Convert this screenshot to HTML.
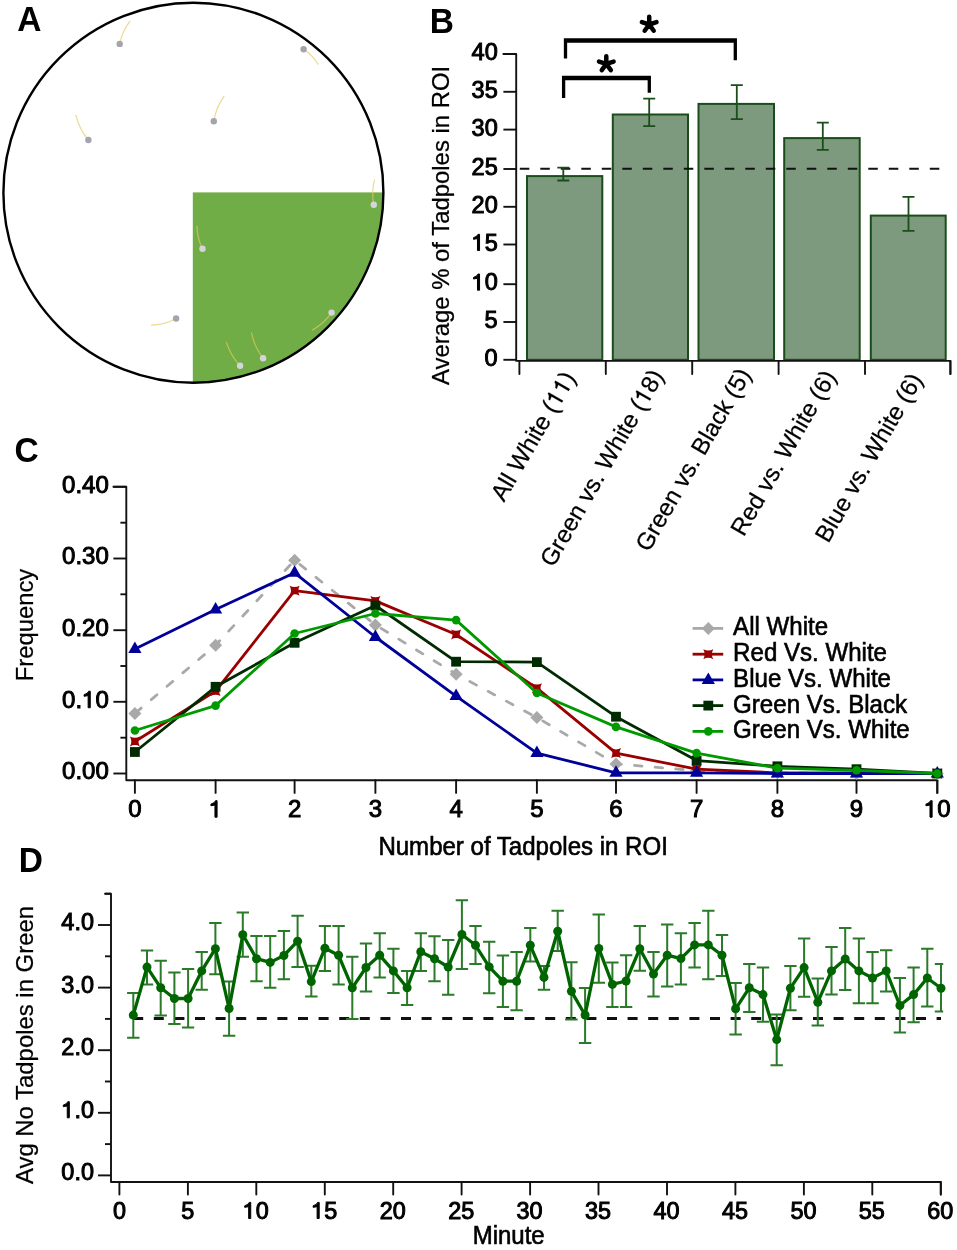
<!DOCTYPE html>
<html><head><meta charset="utf-8"><title>Figure</title>
<style>
html,body{margin:0;padding:0;background:#fff;}
body{width:957px;height:1250px;overflow:hidden;}
svg{display:block;will-change:transform;}
text{font-family:"Liberation Sans", sans-serif;fill:#000;}
.b{font-weight:bold;}
.r{stroke:#000;stroke-width:0.6px;}
.t{stroke:#000;stroke-width:1.0px;}
.r2{stroke:#000;stroke-width:0.25px;}
</style></head><body>
<svg width="957" height="1250" viewBox="0 0 957 1250">
<rect width="957" height="1250" fill="#fff"/>
<text transform="translate(17.30,30.80) scale(1,1.03)" font-size="33.5" class="b">A</text>
<text transform="translate(429.80,32.70) scale(1,1.03)" font-size="33.5" class="b">B</text>
<text transform="translate(14.60,462.40) scale(1,1.03)" font-size="33.5" class="b">C</text>
<text transform="translate(18.80,871.80) scale(1,1.03)" font-size="33.5" class="b">D</text>
<defs><clipPath id="cc"><circle cx="193.4" cy="192.7" r="190.0"/></clipPath></defs>
<rect x="192.8" y="192.4" width="200" height="200" fill="#70AD47" clip-path="url(#cc)"/>
<path d="M119.69999999999999,43.9 Q122.2,31.1 130.2,20.9" stroke="#e8c860" stroke-width="1.2" fill="none" opacity="0.7"/>
<circle cx="119.69999999999999" cy="43.9" r="3.2" fill="#a4a4b0"/>
<path d="M303.6,49.3 Q312.8,55.3 318.3,64.8" stroke="#e8c860" stroke-width="1.2" fill="none" opacity="0.7"/>
<circle cx="303.6" cy="49.3" r="3.2" fill="#a4a4b0"/>
<path d="M213.79999999999998,121.2 Q216.0,107.4 224.2,96.1" stroke="#e8c860" stroke-width="1.2" fill="none" opacity="0.7"/>
<circle cx="213.79999999999998" cy="121.2" r="3.2" fill="#a4a4b0"/>
<path d="M88.39999999999999,140 Q79.1,129.0 75.8,114.9" stroke="#e8c860" stroke-width="1.2" fill="none" opacity="0.7"/>
<circle cx="88.39999999999999" cy="140" r="3.2" fill="#a4a4b0"/>
<path d="M373.8,204.8 Q371.2,192.2 374.6,179.7" stroke="#e8c860" stroke-width="1.2" fill="none" opacity="0.7"/>
<circle cx="373.8" cy="204.8" r="3.2" fill="#d4d4da"/>
<path d="M202.5,248.7 Q197.0,237.9 197.0,225.7" stroke="#e8c860" stroke-width="1.2" fill="none" opacity="0.7"/>
<circle cx="202.5" cy="248.7" r="3.2" fill="#d4d4da"/>
<path d="M176.1,318.5 Q164.4,324.9 151.1,325.2" stroke="#e8c860" stroke-width="1.2" fill="none" opacity="0.7"/>
<circle cx="176.1" cy="318.5" r="3.2" fill="#a4a4b0"/>
<path d="M331.6,312.6 Q323.9,323.8 312.0,330.2" stroke="#e8c860" stroke-width="1.2" fill="none" opacity="0.7"/>
<circle cx="331.6" cy="312.6" r="3.2" fill="#d4d4da"/>
<path d="M263.1,358.2 Q254.1,346.7 251.4,332.3" stroke="#e8c860" stroke-width="1.2" fill="none" opacity="0.7"/>
<circle cx="263.1" cy="358.2" r="3.2" fill="#d4d4da"/>
<path d="M240.1,365.7 Q230.3,355.5 226.29999999999998,341.9" stroke="#e8c860" stroke-width="1.2" fill="none" opacity="0.7"/>
<circle cx="240.1" cy="365.7" r="3.2" fill="#d4d4da"/>
<circle cx="193.4" cy="192.7" r="190.0" fill="none" stroke="#000" stroke-width="2.4"/>
<rect x="527.0" y="176.1" width="75.3" height="183.7" fill="#7e9a7e" stroke="#1a4d1a" stroke-width="2"/>
<rect x="612.8" y="114.5" width="75.2" height="245.3" fill="#7e9a7e" stroke="#1a4d1a" stroke-width="2"/>
<rect x="698.5" y="103.9" width="75.5" height="255.9" fill="#7e9a7e" stroke="#1a4d1a" stroke-width="2"/>
<rect x="784.2" y="138.1" width="75.5" height="221.7" fill="#7e9a7e" stroke="#1a4d1a" stroke-width="2"/>
<rect x="870.8" y="215.6" width="74.9" height="144.2" fill="#7e9a7e" stroke="#1a4d1a" stroke-width="2"/>
<line x1="519.8" y1="168.8" x2="942" y2="168.8" stroke="#111" stroke-width="2" stroke-dasharray="9.5 11"/>
<path d="M563.3,167.6 V180.5 M557.3,167.6 H569.3 M557.3,180.5 H569.3" stroke="#1a4d1a" stroke-width="1.8" fill="none"/>
<path d="M649.2,98.6 V126.1 M643.2,98.6 H655.2 M643.2,126.1 H655.2" stroke="#1a4d1a" stroke-width="1.8" fill="none"/>
<path d="M736.8,85.1 V119.1 M730.8,85.1 H742.8 M730.8,119.1 H742.8" stroke="#1a4d1a" stroke-width="1.8" fill="none"/>
<path d="M822.8,122.7 V149.9 M816.8,122.7 H828.8 M816.8,149.9 H828.8" stroke="#1a4d1a" stroke-width="1.8" fill="none"/>
<path d="M908.5,196.8 V230.8 M902.5,196.8 H914.5 M902.5,230.8 H914.5" stroke="#1a4d1a" stroke-width="1.8" fill="none"/>
<path d="M503.4,54.0 H516.2 V360.9 H950.4 V374" stroke="#111" stroke-width="1.9" fill="none" stroke-linejoin="round" stroke-linecap="round"/>
<line x1="503.4" y1="359.8" x2="516.2" y2="359.8" stroke="#111" stroke-width="1.9"/>
<text transform="translate(497.70,365.80)" font-size="23.5" class="t" text-anchor="end">0</text>
<line x1="503.4" y1="322.0" x2="516.2" y2="322.0" stroke="#111" stroke-width="1.9"/>
<text transform="translate(497.70,328.00)" font-size="23.5" class="t" text-anchor="end">5</text>
<line x1="503.4" y1="284.2" x2="516.2" y2="284.2" stroke="#111" stroke-width="1.9"/>
<g transform="translate(497.70,290.20)"><text x="-26.14" y="0" font-size="23.5" class="t"> 0</text><path class="t" d="M-20.23,0.00 L-18.15,0.00 L-18.15,-16.17 L-19.71,-16.17 Q-20.17,-14.06 -24.19,-12.79 L-24.19,-11.19 L-20.23,-11.88 Z"/></g>
<line x1="503.4" y1="244.5" x2="516.2" y2="244.5" stroke="#111" stroke-width="1.9"/>
<g transform="translate(497.70,250.50)"><text x="-26.14" y="0" font-size="23.5" class="t"> 5</text><path class="t" d="M-20.23,0.00 L-18.15,0.00 L-18.15,-16.17 L-19.71,-16.17 Q-20.17,-14.06 -24.19,-12.79 L-24.19,-11.19 L-20.23,-11.88 Z"/></g>
<line x1="503.4" y1="206.8" x2="516.2" y2="206.8" stroke="#111" stroke-width="1.9"/>
<text transform="translate(497.70,212.80)" font-size="23.5" class="t" text-anchor="end">20</text>
<line x1="503.4" y1="169.0" x2="516.2" y2="169.0" stroke="#111" stroke-width="1.9"/>
<text transform="translate(497.70,175.00)" font-size="23.5" class="t" text-anchor="end">25</text>
<line x1="503.4" y1="129.6" x2="516.2" y2="129.6" stroke="#111" stroke-width="1.9"/>
<text transform="translate(497.70,135.60)" font-size="23.5" class="t" text-anchor="end">30</text>
<line x1="503.4" y1="91.8" x2="516.2" y2="91.8" stroke="#111" stroke-width="1.9"/>
<text transform="translate(497.70,97.80)" font-size="23.5" class="t" text-anchor="end">35</text>
<line x1="503.4" y1="54.0" x2="516.2" y2="54.0" stroke="#111" stroke-width="1.9"/>
<text transform="translate(497.70,60.00)" font-size="23.5" class="t" text-anchor="end">40</text>
<line x1="519.4" y1="360.9" x2="519.4" y2="374" stroke="#111" stroke-width="1.9" stroke-linecap="round"/>
<line x1="605.8" y1="360.9" x2="605.8" y2="374" stroke="#111" stroke-width="1.9" stroke-linecap="round"/>
<line x1="692.2" y1="360.9" x2="692.2" y2="374" stroke="#111" stroke-width="1.9" stroke-linecap="round"/>
<line x1="778.6" y1="360.9" x2="778.6" y2="374" stroke="#111" stroke-width="1.9" stroke-linecap="round"/>
<line x1="865.0" y1="360.9" x2="865.0" y2="374" stroke="#111" stroke-width="1.9" stroke-linecap="round"/>
<line x1="950.4" y1="360.9" x2="950.4" y2="374" stroke="#111" stroke-width="1.9" stroke-linecap="round"/>
<text transform="translate(448.80,225.40) rotate(-90)" font-size="23.9" class="r2" text-anchor="middle">Average % of Tadpoles in ROI</text>
<g transform="translate(576.40,377.60) rotate(-60)"><text x="-144.64" y="0" font-size="24.1" class="r2">All White (  )</text><path class="r2" d="M-28.77,0.00 L-26.64,0.00 L-26.64,-16.58 L-28.24,-16.58 Q-28.71,-14.42 -32.83,-13.12 L-32.83,-11.47 L-28.77,-12.18 Z"/><path class="r2" d="M-15.37,0.00 L-13.24,0.00 L-13.24,-16.58 L-14.84,-16.58 Q-15.31,-14.42 -19.43,-13.12 L-19.43,-11.47 L-15.37,-12.18 Z"/></g>
<g transform="translate(664.40,375.60) rotate(-60)"><text x="-222.32" y="0" font-size="24.1" class="r2">Green vs. White ( 8)</text><path class="r2" d="M-28.77,0.00 L-26.64,0.00 L-26.64,-16.58 L-28.24,-16.58 Q-28.71,-14.42 -32.83,-13.12 L-32.83,-11.47 L-28.77,-12.18 Z"/></g>
<text transform="translate(751.80,374.40) rotate(-60)" font-size="24.1" class="r2" text-anchor="end">Green vs. Black (5)</text>
<text transform="translate(836.85,376.40) rotate(-60)" font-size="24.1" class="r2" text-anchor="end">Red vs. White (6)</text>
<text transform="translate(923.30,379.30) rotate(-60)" font-size="24.1" class="r2" text-anchor="end">Blue vs. White (6)</text>
<path d="M563.85,58.40 V38.25 H736.95 V60.30 H733.65 V42.75 H567.15 V58.40 Z" fill="#000"/>
<path d="M561.95,98.00 V75.75 H650.95 V92.70 H647.65 V80.25 H565.25 V98.00 Z" fill="#000"/>
<path d="M649.2,24.5 L649.20,16.80 M649.2,24.5 L656.52,22.12 M649.2,24.5 L653.73,30.73 M649.2,24.5 L644.67,30.73 M649.2,24.5 L641.88,22.12 " stroke="#000" stroke-width="4.5" stroke-linecap="round" fill="none"/>
<path d="M606.3,63.9 L606.30,56.20 M606.3,63.9 L613.62,61.52 M606.3,63.9 L610.83,70.13 M606.3,63.9 L601.77,70.13 M606.3,63.9 L598.98,61.52 " stroke="#000" stroke-width="4.5" stroke-linecap="round" fill="none"/>
<path d="M113.4,486.8 H126.3 V780.2 H937.3 V792.9" stroke="#111" stroke-width="1.9" fill="none" stroke-linejoin="round" stroke-linecap="round"/>
<line x1="113.4" y1="773.5" x2="126.3" y2="773.5" stroke="#111" stroke-width="1.9"/>
<text transform="translate(108.80,779.40)" font-size="24" class="t" text-anchor="end">0.00</text>
<line x1="120.4" y1="737.7" x2="126.3" y2="737.7" stroke="#111" stroke-width="1.9"/>
<line x1="113.4" y1="701.8" x2="126.3" y2="701.8" stroke="#111" stroke-width="1.9"/>
<g transform="translate(108.80,707.73)"><text x="-46.71" y="0" font-size="24" class="t">0. 0</text><path class="t" d="M-20.66,0.00 L-18.54,0.00 L-18.54,-16.51 L-20.13,-16.51 Q-20.60,-14.36 -24.70,-13.07 L-24.70,-11.43 L-20.66,-12.13 Z"/></g>
<line x1="120.4" y1="666.0" x2="126.3" y2="666.0" stroke="#111" stroke-width="1.9"/>
<line x1="113.4" y1="630.2" x2="126.3" y2="630.2" stroke="#111" stroke-width="1.9"/>
<text transform="translate(108.80,636.06)" font-size="24" class="t" text-anchor="end">0.20</text>
<line x1="120.4" y1="594.3" x2="126.3" y2="594.3" stroke="#111" stroke-width="1.9"/>
<line x1="113.4" y1="558.5" x2="126.3" y2="558.5" stroke="#111" stroke-width="1.9"/>
<text transform="translate(108.80,564.39)" font-size="24" class="t" text-anchor="end">0.30</text>
<line x1="120.4" y1="522.7" x2="126.3" y2="522.7" stroke="#111" stroke-width="1.9"/>
<line x1="113.4" y1="486.8" x2="126.3" y2="486.8" stroke="#111" stroke-width="1.9"/>
<text transform="translate(108.80,492.72)" font-size="24" class="t" text-anchor="end">0.40</text>
<line x1="134.9" y1="780.2" x2="134.9" y2="792.9" stroke="#111" stroke-width="1.9" stroke-linecap="round"/>
<text transform="translate(134.90,817.20)" font-size="24" class="t" text-anchor="middle">0</text>
<line x1="215.6" y1="780.2" x2="215.6" y2="792.9" stroke="#111" stroke-width="1.9" stroke-linecap="round"/>
<g transform="translate(215.60,817.20)"><text x="-6.67" y="0" font-size="24" class="t"> </text><path class="t" d="M-0.64,0.00 L1.48,0.00 L1.48,-16.51 L-0.11,-16.51 Q-0.58,-14.36 -4.68,-13.07 L-4.68,-11.43 L-0.64,-12.13 Z"/></g>
<line x1="294.6" y1="780.2" x2="294.6" y2="792.9" stroke="#111" stroke-width="1.9" stroke-linecap="round"/>
<text transform="translate(294.60,817.20)" font-size="24" class="t" text-anchor="middle">2</text>
<line x1="375.4" y1="780.2" x2="375.4" y2="792.9" stroke="#111" stroke-width="1.9" stroke-linecap="round"/>
<text transform="translate(375.40,817.20)" font-size="24" class="t" text-anchor="middle">3</text>
<line x1="456.1" y1="780.2" x2="456.1" y2="792.9" stroke="#111" stroke-width="1.9" stroke-linecap="round"/>
<text transform="translate(456.10,817.20)" font-size="24" class="t" text-anchor="middle">4</text>
<line x1="536.9" y1="780.2" x2="536.9" y2="792.9" stroke="#111" stroke-width="1.9" stroke-linecap="round"/>
<text transform="translate(536.90,817.20)" font-size="24" class="t" text-anchor="middle">5</text>
<line x1="616.0" y1="780.2" x2="616.0" y2="792.9" stroke="#111" stroke-width="1.9" stroke-linecap="round"/>
<text transform="translate(616.00,817.20)" font-size="24" class="t" text-anchor="middle">6</text>
<line x1="696.6" y1="780.2" x2="696.6" y2="792.9" stroke="#111" stroke-width="1.9" stroke-linecap="round"/>
<text transform="translate(696.60,817.20)" font-size="24" class="t" text-anchor="middle">7</text>
<line x1="777.4" y1="780.2" x2="777.4" y2="792.9" stroke="#111" stroke-width="1.9" stroke-linecap="round"/>
<text transform="translate(777.40,817.20)" font-size="24" class="t" text-anchor="middle">8</text>
<line x1="856.5" y1="780.2" x2="856.5" y2="792.9" stroke="#111" stroke-width="1.9" stroke-linecap="round"/>
<text transform="translate(856.50,817.20)" font-size="24" class="t" text-anchor="middle">9</text>
<line x1="937.3" y1="780.2" x2="937.3" y2="792.9" stroke="#111" stroke-width="1.9" stroke-linecap="round"/>
<g transform="translate(937.30,817.20)"><text x="-13.35" y="0" font-size="24" class="t"> 0</text><path class="t" d="M-7.31,0.00 L-5.19,0.00 L-5.19,-16.51 L-6.79,-16.51 Q-7.25,-14.36 -11.36,-13.07 L-11.36,-11.43 L-7.31,-12.13 Z"/></g>
<text transform="translate(378.40,854.50) scale(1,1.05)" font-size="24.05" class="r">Number of Tadpoles in ROI</text>
<text transform="translate(32.70,625.00) rotate(-90)" font-size="23.8" class="r2" text-anchor="middle">Frequency</text>
<polyline points="134.9,713.4 215.6,645.2 294.6,560.2 375.4,624.9 456.1,674.2 536.9,717.5 616.0,763.9 696.6,770.6 777.4,772.8 856.5,773.5 937.3,773.5" fill="none" stroke="#a9a9a9" stroke-width="2.8" stroke-dasharray="7.5 13.2" stroke-linecap="round" stroke-dashoffset="-0.7"/>
<path d="M134.9,706.9 L141.4,713.4 L134.9,719.9 L128.4,713.4Z" fill="#a9a9a9"/>
<path d="M215.6,638.7 L222.1,645.2 L215.6,651.7 L209.1,645.2Z" fill="#a9a9a9"/>
<path d="M294.6,553.7 L301.1,560.2 L294.6,566.7 L288.1,560.2Z" fill="#a9a9a9"/>
<path d="M375.4,618.4 L381.9,624.9 L375.4,631.4 L368.9,624.9Z" fill="#a9a9a9"/>
<path d="M456.1,667.7 L462.6,674.2 L456.1,680.7 L449.6,674.2Z" fill="#a9a9a9"/>
<path d="M536.9,711.0 L543.4,717.5 L536.9,724.0 L530.4,717.5Z" fill="#a9a9a9"/>
<path d="M616.0,757.4 L622.5,763.9 L616.0,770.4 L609.5,763.9Z" fill="#a9a9a9"/>
<path d="M696.6,764.1 L703.1,770.6 L696.6,777.1 L690.1,770.6Z" fill="#a9a9a9"/>
<path d="M777.4,766.3 L783.9,772.8 L777.4,779.3 L770.9,772.8Z" fill="#a9a9a9"/>
<path d="M856.5,767.0 L863.0,773.5 L856.5,780.0 L850.0,773.5Z" fill="#a9a9a9"/>
<path d="M937.3,767.0 L943.8,773.5 L937.3,780.0 L930.8,773.5Z" fill="#a9a9a9"/>
<polyline points="134.9,741.5 215.6,691.1 294.6,590.7 375.4,600.9 456.1,634.5 536.9,688.2 616.0,753.1 696.6,769.2 777.4,772.8 856.5,772.8 937.3,773.5" fill="none" stroke="#9a0000" stroke-width="2.8" stroke-linejoin="round"/>
<path d="M129.9,736.5 Q134.9,739.2 139.9,736.5 Q137.2,741.5 139.9,746.5 Q134.9,743.7 129.9,746.5 Q132.7,741.5 129.9,736.5Z" fill="#9a0000"/>
<path d="M210.6,686.1 Q215.6,688.8 220.6,686.1 Q217.8,691.1 220.6,696.1 Q215.6,693.3 210.6,696.1 Q213.3,691.1 210.6,686.1Z" fill="#9a0000"/>
<path d="M289.6,585.7 Q294.6,588.5 299.6,585.7 Q296.9,590.7 299.6,595.7 Q294.6,593.0 289.6,595.7 Q292.4,590.7 289.6,585.7Z" fill="#9a0000"/>
<path d="M370.4,595.9 Q375.4,598.7 380.4,595.9 Q377.6,600.9 380.4,605.9 Q375.4,603.2 370.4,605.9 Q373.1,600.9 370.4,595.9Z" fill="#9a0000"/>
<path d="M451.1,629.5 Q456.1,632.2 461.1,629.5 Q458.4,634.5 461.1,639.5 Q456.1,636.7 451.1,639.5 Q453.9,634.5 451.1,629.5Z" fill="#9a0000"/>
<path d="M531.9,683.2 Q536.9,686.0 541.9,683.2 Q539.1,688.2 541.9,693.2 Q536.9,690.5 531.9,693.2 Q534.6,688.2 531.9,683.2Z" fill="#9a0000"/>
<path d="M611.0,748.1 Q616.0,750.8 621.0,748.1 Q618.2,753.1 621.0,758.1 Q616.0,755.3 611.0,758.1 Q613.8,753.1 611.0,748.1Z" fill="#9a0000"/>
<path d="M691.6,764.2 Q696.6,766.9 701.6,764.2 Q698.9,769.2 701.6,774.2 Q696.6,771.4 691.6,774.2 Q694.4,769.2 691.6,764.2Z" fill="#9a0000"/>
<path d="M772.4,767.8 Q777.4,770.5 782.4,767.8 Q779.6,772.8 782.4,777.8 Q777.4,775.0 772.4,777.8 Q775.1,772.8 772.4,767.8Z" fill="#9a0000"/>
<path d="M851.5,767.8 Q856.5,770.5 861.5,767.8 Q858.8,772.8 861.5,777.8 Q856.5,775.0 851.5,777.8 Q854.2,772.8 851.5,767.8Z" fill="#9a0000"/>
<path d="M932.3,768.5 Q937.3,771.2 942.3,768.5 Q939.5,773.5 942.3,778.5 Q937.3,775.8 932.3,778.5 Q935.0,773.5 932.3,768.5Z" fill="#9a0000"/>
<polyline points="134.9,649.1 215.6,609.4 294.6,572.8 375.4,637.0 456.1,696.1 536.9,753.1 616.0,772.8 696.6,772.8 777.4,773.5 856.5,773.5 937.3,773.5" fill="none" stroke="#000099" stroke-width="2.8" stroke-linejoin="round"/>
<path d="M134.9,641.6 L141.5,653.1 L128.3,653.1Z" fill="#000099"/>
<path d="M215.6,601.9 L222.2,613.4 L209.0,613.4Z" fill="#000099"/>
<path d="M294.6,565.3 L301.2,576.8 L288.0,576.8Z" fill="#000099"/>
<path d="M375.4,629.5 L382.0,641.0 L368.8,641.0Z" fill="#000099"/>
<path d="M456.1,688.6 L462.7,700.1 L449.5,700.1Z" fill="#000099"/>
<path d="M536.9,745.6 L543.5,757.1 L530.3,757.1Z" fill="#000099"/>
<path d="M616.0,765.3 L622.6,776.8 L609.4,776.8Z" fill="#000099"/>
<path d="M696.6,765.3 L703.2,776.8 L690.0,776.8Z" fill="#000099"/>
<path d="M777.4,766.0 L784.0,777.5 L770.8,777.5Z" fill="#000099"/>
<path d="M856.5,766.0 L863.1,777.5 L849.9,777.5Z" fill="#000099"/>
<path d="M937.3,766.0 L943.9,777.5 L930.7,777.5Z" fill="#000099"/>
<polyline points="134.9,752.0 215.6,686.8 294.6,642.8 375.4,605.5 456.1,661.7 536.9,662.1 616.0,716.7 696.6,760.6 777.4,766.3 856.5,769.2 937.3,773.5" fill="none" stroke="#002b00" stroke-width="2.8" stroke-linejoin="round"/>
<rect x="130.0" y="747.1" width="9.8" height="9.8" fill="#002b00"/>
<rect x="210.7" y="681.9" width="9.8" height="9.8" fill="#002b00"/>
<rect x="289.7" y="637.9" width="9.8" height="9.8" fill="#002b00"/>
<rect x="370.5" y="600.6" width="9.8" height="9.8" fill="#002b00"/>
<rect x="451.2" y="656.8" width="9.8" height="9.8" fill="#002b00"/>
<rect x="532.0" y="657.2" width="9.8" height="9.8" fill="#002b00"/>
<rect x="611.1" y="711.8" width="9.8" height="9.8" fill="#002b00"/>
<rect x="691.7" y="755.7" width="9.8" height="9.8" fill="#002b00"/>
<rect x="772.5" y="761.4" width="9.8" height="9.8" fill="#002b00"/>
<rect x="851.6" y="764.3" width="9.8" height="9.8" fill="#002b00"/>
<rect x="932.4" y="768.6" width="9.8" height="9.8" fill="#002b00"/>
<polyline points="134.9,730.5 215.6,705.6 294.6,633.5 375.4,613.5 456.1,620.1 536.9,693.0 616.0,726.9 696.6,753.1 777.4,768.1 856.5,770.3 937.3,773.5" fill="none" stroke="#009a00" stroke-width="2.8" stroke-linejoin="round"/>
<circle cx="134.9" cy="730.5" r="4.3" fill="#009a00"/>
<circle cx="215.6" cy="705.6" r="4.3" fill="#009a00"/>
<circle cx="294.6" cy="633.5" r="4.3" fill="#009a00"/>
<circle cx="375.4" cy="613.5" r="4.3" fill="#009a00"/>
<circle cx="456.1" cy="620.1" r="4.3" fill="#009a00"/>
<circle cx="536.9" cy="693.0" r="4.3" fill="#009a00"/>
<circle cx="616.0" cy="726.9" r="4.3" fill="#009a00"/>
<circle cx="696.6" cy="753.1" r="4.3" fill="#009a00"/>
<circle cx="777.4" cy="768.1" r="4.3" fill="#009a00"/>
<circle cx="856.5" cy="770.3" r="4.3" fill="#009a00"/>
<circle cx="937.3" cy="773.5" r="4.3" fill="#009a00"/>
<line x1="692.6" y1="628.4" x2="723.2" y2="628.4" stroke="#a9a9a9" stroke-width="2.8"/>
<path d="M708.3,621.9 L714.8,628.4 L708.3,634.9 L701.8,628.4Z" fill="#a9a9a9"/>
<text transform="translate(733.10,635.40) scale(1,1.05)" font-size="24.1" class="r">All White</text>
<line x1="692.6" y1="654.2" x2="723.2" y2="654.2" stroke="#9a0000" stroke-width="2.8"/>
<path d="M703.3,649.2 Q708.3,652.0 713.3,649.2 Q710.5,654.2 713.3,659.2 Q708.3,656.5 703.3,659.2 Q706.0,654.2 703.3,649.2Z" fill="#9a0000"/>
<text transform="translate(733.10,661.20) scale(1,1.05)" font-size="24.1" class="r">Red Vs. White</text>
<line x1="692.6" y1="679.9" x2="723.2" y2="679.9" stroke="#000099" stroke-width="2.8"/>
<path d="M708.3,672.4 L714.9,683.9 L701.7,683.9Z" fill="#000099"/>
<text transform="translate(733.10,686.90) scale(1,1.05)" font-size="24.1" class="r">Blue Vs. White</text>
<line x1="692.6" y1="705.6" x2="723.2" y2="705.6" stroke="#002b00" stroke-width="2.8"/>
<rect x="703.4" y="700.7" width="9.8" height="9.8" fill="#002b00"/>
<text transform="translate(733.10,712.60) scale(1,1.05)" font-size="24.1" class="r">Green Vs. Black</text>
<line x1="692.6" y1="731.4" x2="723.2" y2="731.4" stroke="#009a00" stroke-width="2.8"/>
<circle cx="708.3" cy="731.4" r="4.3" fill="#009a00"/>
<text transform="translate(733.10,738.40) scale(1,1.05)" font-size="24.1" class="r">Green Vs. White</text>
<path d="M105.0,893.7 H111.0 V1182.0 H940.8 V1194.5" stroke="#111" stroke-width="1.9" fill="none" stroke-linejoin="round" stroke-linecap="round"/>
<line x1="98.0" y1="1175.4" x2="111.0" y2="1175.4" stroke="#111" stroke-width="1.9"/>
<text transform="translate(93.90,1180.40)" font-size="23.4" class="t" text-anchor="end">0.0</text>
<line x1="105.0" y1="1144.1" x2="111.0" y2="1144.1" stroke="#111" stroke-width="1.9"/>
<line x1="98.0" y1="1112.8" x2="111.0" y2="1112.8" stroke="#111" stroke-width="1.9"/>
<g transform="translate(93.90,1117.80)"><text x="-32.53" y="0" font-size="23.4" class="t"> .0</text><path class="t" d="M-26.64,0.00 L-24.58,0.00 L-24.58,-16.10 L-26.13,-16.10 Q-26.59,-14.00 -30.59,-12.74 L-30.59,-11.14 L-26.64,-11.83 Z"/></g>
<line x1="105.0" y1="1081.5" x2="111.0" y2="1081.5" stroke="#111" stroke-width="1.9"/>
<line x1="98.0" y1="1050.2" x2="111.0" y2="1050.2" stroke="#111" stroke-width="1.9"/>
<text transform="translate(93.90,1055.20)" font-size="23.4" class="t" text-anchor="end">2.0</text>
<line x1="105.0" y1="1018.9" x2="111.0" y2="1018.9" stroke="#111" stroke-width="1.9"/>
<line x1="98.0" y1="987.6" x2="111.0" y2="987.6" stroke="#111" stroke-width="1.9"/>
<text transform="translate(93.90,992.60)" font-size="23.4" class="t" text-anchor="end">3.0</text>
<line x1="105.0" y1="956.3" x2="111.0" y2="956.3" stroke="#111" stroke-width="1.9"/>
<line x1="98.0" y1="925.0" x2="111.0" y2="925.0" stroke="#111" stroke-width="1.9"/>
<text transform="translate(93.90,930.00)" font-size="23.4" class="t" text-anchor="end">4.0</text>
<line x1="105.0" y1="893.7" x2="111.0" y2="893.7" stroke="#111" stroke-width="1.9"/>
<line x1="119.4" y1="1182.0" x2="119.4" y2="1194.5" stroke="#111" stroke-width="1.9" stroke-linecap="round"/>
<text transform="translate(119.40,1218.50)" font-size="23.4" class="t" text-anchor="middle">0</text>
<line x1="187.9" y1="1182.0" x2="187.9" y2="1194.5" stroke="#111" stroke-width="1.9" stroke-linecap="round"/>
<text transform="translate(187.85,1218.50)" font-size="23.4" class="t" text-anchor="middle">5</text>
<line x1="256.3" y1="1182.0" x2="256.3" y2="1194.5" stroke="#111" stroke-width="1.9" stroke-linecap="round"/>
<g transform="translate(255.80,1218.50)"><text x="-13.01" y="0" font-size="23.4" class="t"> 0</text><path class="t" d="M-7.13,0.00 L-5.06,0.00 L-5.06,-16.10 L-6.62,-16.10 Q-7.07,-14.00 -11.07,-12.74 L-11.07,-11.14 L-7.13,-11.83 Z"/></g>
<line x1="324.8" y1="1182.0" x2="324.8" y2="1194.5" stroke="#111" stroke-width="1.9" stroke-linecap="round"/>
<g transform="translate(324.25,1218.50)"><text x="-13.01" y="0" font-size="23.4" class="t"> 5</text><path class="t" d="M-7.13,0.00 L-5.06,0.00 L-5.06,-16.10 L-6.62,-16.10 Q-7.07,-14.00 -11.07,-12.74 L-11.07,-11.14 L-7.13,-11.83 Z"/></g>
<line x1="393.2" y1="1182.0" x2="393.2" y2="1194.5" stroke="#111" stroke-width="1.9" stroke-linecap="round"/>
<text transform="translate(392.70,1218.50)" font-size="23.4" class="t" text-anchor="middle">20</text>
<line x1="461.6" y1="1182.0" x2="461.6" y2="1194.5" stroke="#111" stroke-width="1.9" stroke-linecap="round"/>
<text transform="translate(461.15,1218.50)" font-size="23.4" class="t" text-anchor="middle">25</text>
<line x1="530.1" y1="1182.0" x2="530.1" y2="1194.5" stroke="#111" stroke-width="1.9" stroke-linecap="round"/>
<text transform="translate(529.60,1218.50)" font-size="23.4" class="t" text-anchor="middle">30</text>
<line x1="598.5" y1="1182.0" x2="598.5" y2="1194.5" stroke="#111" stroke-width="1.9" stroke-linecap="round"/>
<text transform="translate(598.05,1218.50)" font-size="23.4" class="t" text-anchor="middle">35</text>
<line x1="667.0" y1="1182.0" x2="667.0" y2="1194.5" stroke="#111" stroke-width="1.9" stroke-linecap="round"/>
<text transform="translate(666.50,1218.50)" font-size="23.4" class="t" text-anchor="middle">40</text>
<line x1="735.4" y1="1182.0" x2="735.4" y2="1194.5" stroke="#111" stroke-width="1.9" stroke-linecap="round"/>
<text transform="translate(734.95,1218.50)" font-size="23.4" class="t" text-anchor="middle">45</text>
<line x1="803.9" y1="1182.0" x2="803.9" y2="1194.5" stroke="#111" stroke-width="1.9" stroke-linecap="round"/>
<text transform="translate(803.40,1218.50)" font-size="23.4" class="t" text-anchor="middle">50</text>
<line x1="872.3" y1="1182.0" x2="872.3" y2="1194.5" stroke="#111" stroke-width="1.9" stroke-linecap="round"/>
<text transform="translate(871.85,1218.50)" font-size="23.4" class="t" text-anchor="middle">55</text>
<line x1="940.8" y1="1182.0" x2="940.8" y2="1194.5" stroke="#111" stroke-width="1.9" stroke-linecap="round"/>
<text transform="translate(940.30,1218.50)" font-size="23.4" class="t" text-anchor="middle">60</text>
<text transform="translate(508.70,1244.40) scale(1,1.05)" font-size="24.0" class="r" text-anchor="middle">Minute</text>
<text transform="translate(32.80,1045.00) rotate(-90)" font-size="23.9" class="r2" text-anchor="middle">Avg No Tadpoles in Green</text>
<line x1="133.2" y1="1018.6" x2="941" y2="1018.6" stroke="#111" stroke-width="3" stroke-dasharray="10 10.6"/>
<path d="M133.3,993.1 V1037.8 M127.1,993.1 H139.5 M127.1,1037.8 H139.5 M147.0,950.6 V984.4 M140.8,950.6 H153.2 M140.8,984.4 H153.2 M160.7,960.7 V1015.5 M154.5,960.7 H166.9 M154.5,1015.5 H166.9 M174.4,972.4 V1023.9 M168.2,972.4 H180.6 M168.2,1023.9 H180.6 M188.1,969.0 V1027.5 M181.9,969.0 H194.2 M181.9,1027.5 H194.2 M201.7,952.1 V989.7 M195.5,952.1 H207.9 M195.5,989.7 H207.9 M215.4,922.9 V974.3 M209.2,922.9 H221.6 M209.2,974.3 H221.6 M229.1,981.6 V1035.8 M222.9,981.6 H235.3 M222.9,1035.8 H235.3 M242.8,912.6 V956.8 M236.6,912.6 H249.0 M236.6,956.8 H249.0 M256.5,936.1 V981.2 M250.3,936.1 H262.7 M250.3,981.2 H262.7 M270.2,936.1 V987.8 M264.0,936.1 H276.4 M264.0,987.8 H276.4 M283.9,931.0 V979.3 M277.7,931.0 H290.1 M277.7,979.3 H290.1 M297.6,915.8 V967.1 M291.4,915.8 H303.8 M291.4,967.1 H303.8 M311.3,965.8 V996.6 M305.1,965.8 H317.5 M305.1,996.6 H317.5 M324.9,926.1 V970.9 M318.8,926.1 H331.1 M318.8,970.9 H331.1 M338.6,926.1 V984.6 M332.4,926.1 H344.8 M332.4,984.6 H344.8 M352.3,956.8 V1019.0 M346.1,956.8 H358.5 M346.1,1019.0 H358.5 M366.0,943.6 V991.6 M359.8,943.6 H372.2 M359.8,991.6 H372.2 M379.7,933.3 V977.6 M373.5,933.3 H385.9 M373.5,977.6 H385.9 M393.4,948.7 V993.1 M387.2,948.7 H399.6 M387.2,993.1 H399.6 M407.1,970.9 V1005.1 M400.9,970.9 H413.3 M400.9,1005.1 H413.3 M420.8,933.3 V970.9 M414.6,933.3 H427.0 M414.6,970.9 H427.0 M434.5,936.2 V981.2 M428.3,936.2 H440.7 M428.3,981.2 H440.7 M448.2,940.0 V994.7 M442.0,940.0 H454.4 M442.0,994.7 H454.4 M461.9,900.3 V969.0 M455.7,900.3 H468.1 M455.7,969.0 H468.1 M475.5,926.1 V963.9 M469.3,926.1 H481.7 M469.3,963.9 H481.7 M489.2,941.7 V993.2 M483.0,941.7 H495.4 M483.0,993.2 H495.4 M502.9,955.6 V1007.0 M496.7,955.6 H509.1 M496.7,1007.0 H509.1 M516.6,952.0 V1010.2 M510.4,952.0 H522.8 M510.4,1010.2 H522.8 M530.3,928.0 V961.4 M524.1,928.0 H536.5 M524.1,961.4 H536.5 M544.0,966.1 V989.7 M537.8,966.1 H550.2 M537.8,989.7 H550.2 M557.7,910.7 V951.1 M551.5,910.7 H563.9 M551.5,951.1 H563.9 M571.4,962.2 V1019.6 M565.2,962.2 H577.6 M565.2,1019.6 H577.6 M585.1,988.1 V1042.9 M578.9,988.1 H591.3 M578.9,1042.9 H591.3 M598.8,914.4 V982.7 M592.5,914.4 H605.0 M592.5,982.7 H605.0 M612.4,962.4 V1007.0 M606.2,962.4 H618.6 M606.2,1007.0 H618.6 M626.1,955.2 V1007.0 M619.9,955.2 H632.3 M619.9,1007.0 H632.3 M639.8,926.1 V970.8 M633.6,926.1 H646.0 M633.6,970.8 H646.0 M653.5,952.0 V996.6 M647.3,952.0 H659.7 M647.3,996.6 H659.7 M667.2,924.6 V986.5 M661.0,924.6 H673.4 M661.0,986.5 H673.4 M680.9,933.2 V984.4 M674.7,933.2 H687.1 M674.7,984.4 H687.1 M694.6,922.9 V967.5 M688.4,922.9 H700.8 M688.4,967.5 H700.8 M708.3,910.7 V979.3 M702.1,910.7 H714.5 M702.1,979.3 H714.5 M722.0,934.9 V975.9 M715.8,934.9 H728.2 M715.8,975.9 H728.2 M735.6,982.9 V1034.6 M729.4,982.9 H741.9 M729.4,1034.6 H741.9 M749.3,963.9 V1012.0 M743.1,963.9 H755.5 M743.1,1012.0 H755.5 M763.0,967.6 V1021.8 M756.8,967.6 H769.2 M756.8,1021.8 H769.2 M776.7,1014.5 V1065.2 M770.5,1014.5 H782.9 M770.5,1065.2 H782.9 M790.4,965.9 V1010.2 M784.2,965.9 H796.6 M784.2,1010.2 H796.6 M804.1,938.4 V996.8 M797.9,938.4 H810.3 M797.9,996.8 H810.3 M817.8,978.4 V1025.6 M811.6,978.4 H824.0 M811.6,1025.6 H824.0 M831.5,947.1 V994.6 M825.3,947.1 H837.7 M825.3,994.6 H837.7 M845.2,928.0 V989.9 M839.0,928.0 H851.4 M839.0,989.9 H851.4 M858.9,938.4 V1003.3 M852.7,938.4 H865.1 M852.7,1003.3 H865.1 M872.5,952.0 V1003.3 M866.3,952.0 H878.8 M866.3,1003.3 H878.8 M886.2,950.3 V991.4 M880.0,950.3 H892.4 M880.0,991.4 H892.4 M899.9,978.0 V1032.5 M893.7,978.0 H906.1 M893.7,1032.5 H906.1 M913.6,967.6 V1022.3 M907.4,967.6 H919.8 M907.4,1022.3 H919.8 M927.3,948.8 V1006.5 M921.1,948.8 H933.5 M921.1,1006.5 H933.5 M941.0,963.9 V1011.5 M934.8,963.9 H943.2 M934.8,1011.5 H943.2 " stroke="#2a7a2a" stroke-width="2" fill="none"/>
<polyline points="133.3,1015.1 147.0,967.1 160.7,987.8 174.4,998.5 188.1,998.5 201.7,970.9 215.4,948.7 229.1,1008.5 242.8,934.8 256.5,958.7 270.2,962.4 283.9,955.5 297.6,941.2 311.3,981.6 324.9,948.3 338.6,955.3 352.3,987.8 366.0,967.5 379.7,955.3 393.4,970.9 407.1,987.8 420.8,951.7 434.5,958.7 448.2,967.0 461.9,934.5 475.5,945.3 489.2,966.9 502.9,981.2 516.6,981.2 530.3,945.3 544.0,977.4 557.7,931.2 571.4,991.3 585.1,1015.0 598.8,948.4 612.4,984.4 626.1,981.0 639.8,948.7 653.5,974.0 667.2,955.2 680.9,958.6 694.6,944.9 708.3,944.9 722.0,955.2 735.6,1008.8 749.3,987.8 763.0,994.6 776.7,1039.6 790.4,988.2 804.1,967.6 817.8,1002.2 831.5,970.9 845.2,959.0 858.9,970.9 872.5,978.0 886.2,970.9 899.9,1005.5 913.6,994.6 927.3,978.0 941.0,988.2" fill="none" stroke="#006400" stroke-width="3.3" stroke-linejoin="round"/>
<circle cx="133.3" cy="1015.1" r="4.5" fill="#006400"/>
<circle cx="147.0" cy="967.1" r="4.5" fill="#006400"/>
<circle cx="160.7" cy="987.8" r="4.5" fill="#006400"/>
<circle cx="174.4" cy="998.5" r="4.5" fill="#006400"/>
<circle cx="188.1" cy="998.5" r="4.5" fill="#006400"/>
<circle cx="201.7" cy="970.9" r="4.5" fill="#006400"/>
<circle cx="215.4" cy="948.7" r="4.5" fill="#006400"/>
<circle cx="229.1" cy="1008.5" r="4.5" fill="#006400"/>
<circle cx="242.8" cy="934.8" r="4.5" fill="#006400"/>
<circle cx="256.5" cy="958.7" r="4.5" fill="#006400"/>
<circle cx="270.2" cy="962.4" r="4.5" fill="#006400"/>
<circle cx="283.9" cy="955.5" r="4.5" fill="#006400"/>
<circle cx="297.6" cy="941.2" r="4.5" fill="#006400"/>
<circle cx="311.3" cy="981.6" r="4.5" fill="#006400"/>
<circle cx="324.9" cy="948.3" r="4.5" fill="#006400"/>
<circle cx="338.6" cy="955.3" r="4.5" fill="#006400"/>
<circle cx="352.3" cy="987.8" r="4.5" fill="#006400"/>
<circle cx="366.0" cy="967.5" r="4.5" fill="#006400"/>
<circle cx="379.7" cy="955.3" r="4.5" fill="#006400"/>
<circle cx="393.4" cy="970.9" r="4.5" fill="#006400"/>
<circle cx="407.1" cy="987.8" r="4.5" fill="#006400"/>
<circle cx="420.8" cy="951.7" r="4.5" fill="#006400"/>
<circle cx="434.5" cy="958.7" r="4.5" fill="#006400"/>
<circle cx="448.2" cy="967.0" r="4.5" fill="#006400"/>
<circle cx="461.9" cy="934.5" r="4.5" fill="#006400"/>
<circle cx="475.5" cy="945.3" r="4.5" fill="#006400"/>
<circle cx="489.2" cy="966.9" r="4.5" fill="#006400"/>
<circle cx="502.9" cy="981.2" r="4.5" fill="#006400"/>
<circle cx="516.6" cy="981.2" r="4.5" fill="#006400"/>
<circle cx="530.3" cy="945.3" r="4.5" fill="#006400"/>
<circle cx="544.0" cy="977.4" r="4.5" fill="#006400"/>
<circle cx="557.7" cy="931.2" r="4.5" fill="#006400"/>
<circle cx="571.4" cy="991.3" r="4.5" fill="#006400"/>
<circle cx="585.1" cy="1015.0" r="4.5" fill="#006400"/>
<circle cx="598.8" cy="948.4" r="4.5" fill="#006400"/>
<circle cx="612.4" cy="984.4" r="4.5" fill="#006400"/>
<circle cx="626.1" cy="981.0" r="4.5" fill="#006400"/>
<circle cx="639.8" cy="948.7" r="4.5" fill="#006400"/>
<circle cx="653.5" cy="974.0" r="4.5" fill="#006400"/>
<circle cx="667.2" cy="955.2" r="4.5" fill="#006400"/>
<circle cx="680.9" cy="958.6" r="4.5" fill="#006400"/>
<circle cx="694.6" cy="944.9" r="4.5" fill="#006400"/>
<circle cx="708.3" cy="944.9" r="4.5" fill="#006400"/>
<circle cx="722.0" cy="955.2" r="4.5" fill="#006400"/>
<circle cx="735.6" cy="1008.8" r="4.5" fill="#006400"/>
<circle cx="749.3" cy="987.8" r="4.5" fill="#006400"/>
<circle cx="763.0" cy="994.6" r="4.5" fill="#006400"/>
<circle cx="776.7" cy="1039.6" r="4.5" fill="#006400"/>
<circle cx="790.4" cy="988.2" r="4.5" fill="#006400"/>
<circle cx="804.1" cy="967.6" r="4.5" fill="#006400"/>
<circle cx="817.8" cy="1002.2" r="4.5" fill="#006400"/>
<circle cx="831.5" cy="970.9" r="4.5" fill="#006400"/>
<circle cx="845.2" cy="959.0" r="4.5" fill="#006400"/>
<circle cx="858.9" cy="970.9" r="4.5" fill="#006400"/>
<circle cx="872.5" cy="978.0" r="4.5" fill="#006400"/>
<circle cx="886.2" cy="970.9" r="4.5" fill="#006400"/>
<circle cx="899.9" cy="1005.5" r="4.5" fill="#006400"/>
<circle cx="913.6" cy="994.6" r="4.5" fill="#006400"/>
<circle cx="927.3" cy="978.0" r="4.5" fill="#006400"/>
<circle cx="941.0" cy="988.2" r="4.5" fill="#006400"/>
</svg></body></html>
